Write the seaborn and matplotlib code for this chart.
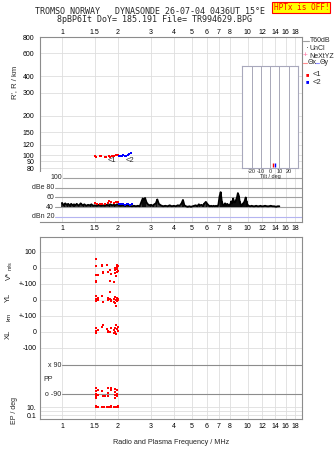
import numpy as np
import matplotlib
matplotlib.use('Agg')
import matplotlib.pyplot as plt
import seaborn as sns
from matplotlib.lines import Line2D

W, H = 335, 451

# axis ticks
freq_ticks = [1, 1.5, 2, 3, 4, 5, 6, 7, 8, 10, 12, 14, 16, 18]
freq_labels = ['1', '1.5', '2', '3', '4', '5', '6', '7', '8', '10', '12', '14', '16', '18']
rprime_ticks = [80, 90, 100, 120, 150, 200, 300, 400, 600, 800]
tilt_ticks = [-20, -10, 0, 10, 20]

# virtual range of the echoes
red_f = [1.50, 1.52, 1.60, 1.63, 1.70, 1.73, 1.78, 1.82, 1.86, 1.90, 1.95, 1.99]
red_r = [99, 97, 98, 98, 97, 97, 98, 97, 98, 99, 100, 100]
blue_f = [2.02, 2.06, 2.10, 2.14, 2.18, 2.22, 2.26, 2.30, 2.34]
blue_r = [99, 98, 99, 100, 98, 99, 101, 102, 104]

# tilt of the two echo traces
red_tilt = [3]
blue_tilt = [5]
tilt_level = [0.03]

# noise level (dB)
noise_f = [1.00, 1.02, 1.04, 1.06, 1.08, 1.10, 1.12, 1.14, 1.16, 1.18,
           1.20, 1.23, 1.26, 1.29, 1.32, 1.35, 1.38, 1.41, 1.44, 1.47,
           1.50, 1.54, 1.58, 1.62, 1.66, 1.70, 1.74, 1.78, 1.82, 1.86,
           1.90, 1.94, 1.98, 2.02, 2.07, 2.12, 2.17, 2.22, 2.27, 2.32,
           2.38, 2.44, 2.50, 2.56, 2.62, 2.68, 2.72, 2.76, 2.80, 2.85,
           2.90, 2.96, 3.02, 3.08, 3.14, 3.20, 3.26, 3.32, 3.40, 3.50,
           3.60, 3.70, 3.80, 3.90, 4.00, 4.10, 4.20, 4.30, 4.40, 4.48,
           4.56, 4.65, 4.75, 4.85, 4.95, 5.05, 5.15, 5.25, 5.35, 5.45,
           5.55, 5.65, 5.75, 5.85, 5.95, 6.05, 6.15, 6.25, 6.35, 6.45,
           6.55, 6.65, 6.75, 6.85, 6.95, 7.05, 7.15, 7.25, 7.35, 7.45,
           7.55, 7.65, 7.75, 7.85, 7.95, 8.05, 8.15, 8.25, 8.35, 8.45,
           8.55, 8.65, 8.75, 8.85, 8.95, 9.05, 9.15, 9.25, 9.35, 9.45,
           9.55, 9.65, 9.75, 9.85, 9.95, 10.1, 10.3, 10.5, 10.7, 10.9,
           11.1, 11.3, 11.5, 11.7, 11.9, 12.1, 12.4, 12.7, 13.0, 13.3,
           13.6, 13.9, 14.2, 14.5, 14.8]
noise_db = [49, 44, 48, 45, 47, 43, 47, 44, 46, 44,
            47, 43, 48, 44, 46, 43, 45, 44, 46, 43,
            44, 43, 45, 43, 44, 43, 45, 44, 46, 44,
            45, 44, 46, 44, 43, 44, 43, 44, 43, 43,
            42, 43, 42, 43, 42, 52, 58, 55, 59, 50,
            46, 44, 45, 43, 46, 48, 56, 47, 44, 42,
            43, 42, 44, 42, 43, 42, 44, 43, 48, 55,
            44, 42, 41, 42, 41, 42, 43, 44, 42, 46,
            44, 45, 43, 48, 51, 47, 44, 42, 43, 42,
            43, 42, 43, 42, 45, 62, 71, 52, 45, 44,
            48, 44, 47, 45, 44, 46, 52, 48, 58, 50,
            50, 55, 60, 69, 64, 52, 47, 45, 44, 48,
            50, 54, 60, 52, 46, 43, 42, 43, 42, 42,
            43, 42, 42, 43, 42, 42, 43, 42, 42, 43,
            42, 42, 41, 42, 42]

# echo amplitude (dB)
red_db_f = [1.50, 1.54, 1.60, 1.65, 1.70, 1.76, 1.80, 1.84, 1.90, 1.95, 1.99]
red_db_v = [48, 47, 46, 47, 46, 49, 52, 50, 48, 50, 51]
blue_db_f = [2.03, 2.08, 2.13, 2.18, 2.23, 2.28, 2.33, 2.38]
blue_db_v = [46, 47, 46, 45, 46, 46, 45, 46]

# lower panel parameters of the <1 trace
vstar_f = [1.52, 1.52, 1.52, 1.52, 1.52, 1.56, 1.64, 1.64, 1.66, 1.66, 1.75, 1.77, 1.81,
           1.81, 1.84, 1.91, 1.93, 1.93, 1.93, 1.96, 1.98, 1.98, 1.98, 1.98, 2.00, 2.00]
vstar_v = [56, 12, -44, -81, -88, -44, 19, 12, -25, -31, 19, -25, -12,
           -81, -37, -87, 0, -12, -31, -50, 19, -6, -25, 6, 12, -19]
yl_f = [1.52, 1.52, 1.52, 1.52, 1.56, 1.56, 1.64, 1.66, 1.77, 1.77, 1.81, 1.81,
        1.84, 1.84, 1.91, 1.91, 1.93, 1.93, 1.96, 1.96, 1.98, 1.98, 2.00, 2.00]
yl_v = [25, 6, 0, -6, 12, 0, 25, -12, 12, 0, 50, 6,
        0, -6, -12, 6, 19, -18, -37, 0, 12, -6, 6, 0]
xl_f = [1.52, 1.52, 1.52, 1.52, 1.56, 1.64, 1.66, 1.75, 1.77, 1.77, 1.81,
        1.84, 1.91, 1.91, 1.93, 1.93, 1.93, 1.96, 1.96, 1.98, 2.00, 2.00]
xl_v = [25, 6, -6, 0, 12, 31, 44, 19, 6, 0, 0,
        25, 12, -6, 25, 0, -6, 44, -12, 19, 31, 6]
pp_f = [1.52, 1.52, 1.52, 1.52, 1.52, 1.56, 1.56, 1.64, 1.66, 1.70, 1.77,
        1.77, 1.77, 1.84, 1.84, 1.93, 1.93, 1.93, 1.93, 1.98, 1.98, 1.98]
pp_v = [-53, -72, -90, -103, -115, -65, -96, -72, -103, -103, -53,
        -84, -103, -53, -65, -59, -78, -96, -115, -65, -90, -103]
ep_f = [1.52, 1.52, 1.56, 1.64, 1.68, 1.75, 1.80, 1.84, 1.84, 1.91, 1.93, 1.96, 1.96, 1.98, 2.00, 2.00]
ep_v = [14, 10, 12, 10, 13, 11, 12, 10, 14, 12, 10, 13, 10, 12, 11, 14]

sns.set_style('white')
plt.rcParams['font.family'] = ['Liberation Sans', 'DejaVu Sans']
plt.rcParams['font.size'] = 5

FRAME = '#8c8c8c'
GRID = '#dedede'
RED = '#ff0000'
BLUE = '#0000ff'


def rect(x0, y0, x1, y1):
    return [x0 / W, 1 - y1 / H, (x1 - x0) / W, (y1 - y0) / H]


def fxy(px, py):
    return px / W, 1 - py / H


# the lower panel stacks several quantities on one axis
def y_vstar(v):
    return np.asarray(v) / 100


def y_yl(v):
    return -2 + np.asarray(v) / 100


def y_xl(v):
    return -4 + np.asarray(v) / 100


def y_pp(p):
    return -6.969 + np.asarray(p) * (14.5 / 16 / 90)


def y_ep(e):
    return -8.6875 + (np.log10(e) - 1) * 0.25


fig = plt.figure(figsize=(W / 100, H / 100), dpi=100)

ax_r = fig.add_axes(rect(40, 37, 302, 172))
ax_db = fig.add_axes(rect(40, 172, 302, 222))
ax_lo = fig.add_axes(rect(40, 237, 302, 419))

for ax in (ax_r, ax_db, ax_lo):
    ax.set_xscale('log')
    ax.set_xlim(0.761, 19.6)
    for f in freq_ticks:
        ax.axvline(f, color=GRID, lw=0.6, zorder=0)
    ax.set_xticks(freq_ticks)
    ax.set_xticklabels(freq_labels)
    ax.xaxis.set_minor_locator(plt.NullLocator())
    ax.tick_params(length=0, labelsize=5, colors='black')
    for s in ax.spines.values():
        s.set_color(FRAME)
        s.set_linewidth(0.8)

# --- top panel: virtual range
ax_r.set_yscale('log')
ax_r.set_ylim(74.6, 800)
ax_r.yaxis.set_minor_locator(plt.NullLocator())
ax_r.set_yticks(rprime_ticks)
ax_r.set_yticklabels([str(t) for t in rprime_ticks])
for t in rprime_ticks:
    ax_r.axhline(t, color=GRID, lw=0.6, zorder=0)
ax_r.xaxis.tick_top()
ax_r.tick_params(axis='x', pad=1)
ax_r.tick_params(axis='y', pad=4)
ax_r.spines['bottom'].set_visible(False)

sns.scatterplot(x=red_f, y=red_r, color=RED, marker='s', s=4, linewidth=0, ax=ax_r, zorder=3)
sns.scatterplot(x=blue_f, y=blue_r, color=BLUE, marker='s', s=4, linewidth=0, ax=ax_r, zorder=3)
ax_r.text(1.77, 92, '<1', fontsize=5.5, va='center')
ax_r.text(2.21, 92, '<2', fontsize=5.5, va='center')

# tilt inset
ax_t = fig.add_axes(rect(242, 66, 298, 168))
ax_t.set_facecolor('white')
ax_t.set_xlim(-30.4, 30)
ax_t.set_ylim(0, 1)
for t in tilt_ticks:
    ax_t.axvline(t, color='#a8a8b8', lw=0.7, zorder=0)
ax_t.set_xticks(tilt_ticks)
ax_t.set_xticklabels([str(t) for t in tilt_ticks])
ax_t.set_yticks([])
ax_t.tick_params(length=0, labelsize=4, pad=0.5)
ax_t.set_xlabel('Tilt / deg', fontsize=4, labelpad=0)
for s in ax_t.spines.values():
    s.set_color('#a8a8bc')
    s.set_linewidth(0.8)
sns.scatterplot(x=red_tilt, y=tilt_level, color=RED, marker='|', s=10, linewidth=1, ax=ax_t)
sns.scatterplot(x=blue_tilt, y=tilt_level, color=BLUE, marker='|', s=10, linewidth=1, ax=ax_t)

# --- dB panel
ax_db.set_ylim(9.7, 112.3)
ax_db.set_yticks([])
ax_db.spines['top'].set_visible(False)
ax_db.spines['left'].set_visible(False)
ax_db.tick_params(axis='x', pad=2.5)
ax_db.axhline(100, xmin=23 / 262, color='#a0a0a0', lw=0.8, zorder=1)
for lv in [80, 60, 40]:
    ax_db.axhline(lv, xmin=15 / 262, color='#a0a0a0', lw=0.8, zorder=1)
ax_db.axhline(20, xmin=15 / 262, color='#b4b4f0', lw=0.8, zorder=1)
tr = ax_db.get_yaxis_transform()
ax_db.text(22 / 262, 100, '100', transform=tr, ha='right', va='center')
ax_db.text(14 / 262, 80, 'dBe 80', transform=tr, ha='right', va='center')
ax_db.text(14 / 262, 60, '60', transform=tr, ha='right', va='center')
ax_db.text(14 / 262, 40, '40', transform=tr, ha='right', va='center')
ax_db.text(14 / 262, 20, 'dBn 20', transform=tr, ha='right', va='center')

ax_db.vlines(noise_f, 41, noise_db, color='black', lw=1.1, zorder=2)
sns.lineplot(x=noise_f, y=noise_db, color='black', lw=1.3, ax=ax_db, zorder=2)
sns.scatterplot(x=red_db_f, y=red_db_v, color=RED, marker='s', s=4, linewidth=0, ax=ax_db, zorder=3)
sns.scatterplot(x=blue_db_f, y=blue_db_v, color=BLUE, marker='s', s=4, linewidth=0, ax=ax_db, zorder=3)

# --- lower panel
ax_lo.set_ylim(-9.4375, 1.9375)
lo_ticks = [1, 0, -1, -2, -3, -4, -5, float(y_ep(10)), float(y_ep(0.1))]
lo_labels = ['100', '0', '+-100', '0', '+-100', '0', '-100', '10.', '0.1']
ax_lo.set_yticks(lo_ticks)
ax_lo.set_yticklabels(lo_labels)
ax_lo.tick_params(axis='y', pad=2.5)
ax_lo.tick_params(axis='x', pad=3)
for t in [1, 0, -1, -2, -3, -4, -5, float(y_ep(10)), float(y_ep(1)), float(y_ep(0.1))]:
    ax_lo.axhline(t, color=GRID, lw=0.6, zorder=0)
for p in [90, -90]:
    ax_lo.axhline(float(y_pp(p)), xmin=22 / 262, color='#8c8c8c', lw=0.8, zorder=1)
tr = ax_lo.get_yaxis_transform()
ax_lo.text(21 / 262, float(y_pp(90)), 'x 90', transform=tr, ha='right', va='center')
ax_lo.text(21 / 262, float(y_pp(-90)), 'o -90', transform=tr, ha='right', va='center')
ax_lo.text(3 / 262, float(y_pp(0)), 'PP', transform=tr, ha='left', va='center')

kw = dict(color=RED, marker='s', s=3, linewidth=0, ax=ax_lo, zorder=3)
sns.scatterplot(x=vstar_f, y=y_vstar(vstar_v), **kw)
sns.scatterplot(x=yl_f, y=y_yl(yl_v), **kw)
sns.scatterplot(x=xl_f, y=y_xl(xl_v), **kw)
sns.scatterplot(x=pp_f, y=y_pp(pp_v), **kw)
sns.scatterplot(x=ep_f, y=y_ep(ep_v), **kw)
ax_lo.set_xlabel('Radio and Plasma Frequency / MHz', fontsize=5.2, labelpad=6)

# --- axis titles on the left
fig.text(*fxy(14.5, 82), "R', R / km", rotation=90, ha='center', va='center', fontsize=5.5)
fig.text(*fxy(9.5, 276), 'V*', rotation=90, ha='center', va='center', fontsize=5.5)
fig.text(*fxy(10, 266), 'm/s', rotation=90, ha='center', va='center', fontsize=4)
fig.text(*fxy(8, 297), 'YL', rotation=90, ha='center', va='center', fontsize=5.5)
fig.text(*fxy(9, 317), 'km', rotation=90, ha='center', va='center', fontsize=4.5)
fig.text(*fxy(8, 334), 'XL', rotation=90, ha='center', va='center', fontsize=5.5)
fig.text(*fxy(14, 410), 'EP / deg', rotation=90, ha='center', va='center', fontsize=5)


# --- legend at the right
def fig_line(x0, x1, y, color, lw=0.8):
    fig.add_artist(Line2D([x0 / W, x1 / W], [1 - y / H, 1 - y / H], color=color, lw=lw))


fig_line(303, 309, 41, '#a0a0a0')
fig.text(*fxy(310, 41), 'T60dB', ha='left', va='center')
fig.text(*fxy(307, 49), '·', ha='center', va='center', fontsize=6)
fig.text(*fxy(310, 49), 'UnCl', ha='left', va='center')
fig.text(*fxy(305.5, 56), '+', ha='center', va='center', color='#ff70a0', fontsize=6)
fig.text(*fxy(309, 56), 'NeXtYZ', ha='left', va='center')
fig_line(303, 307, 63, '#ff8c8c')
fig.text(*fxy(307.5, 63), 'Θx', ha='left', va='center', fontsize=5)
fig_line(315, 319, 63, '#8c8cff')
fig.text(*fxy(319.5, 63), 'Θy', ha='left', va='center', fontsize=5)
fig.text(*fxy(307, 75), '■', ha='center', va='center', color=RED, fontsize=4)
fig.text(*fxy(313, 75), '<1', ha='left', va='center', fontsize=5.5)
fig.text(*fxy(307, 82), '■', ha='center', va='center', color=BLUE, fontsize=4)
fig.text(*fxy(313, 82), '<2', ha='left', va='center', fontsize=5.5)

# --- header
fig.text(*fxy(35, 12), 'TROMSO NORWAY   DYNASONDE 26-07-04 0436UT 15°E',
         family='DejaVu Sans Mono', fontsize=6, ha='left', va='center')
fig.text(*fxy(57, 20), '8pBP6It DoY= 185.191 File= TR994629.BPG',
         family='DejaVu Sans Mono', fontsize=6, ha='left', va='center')
fig.text(*fxy(273.5, 7.5), 'HPTx is OFF!', family='DejaVu Sans Mono', fontsize=5.6,
         ha='left', va='center', color=RED,
         bbox=dict(facecolor='#ffff00', edgecolor=RED, linewidth=0.8, pad=0.8))

fig.savefig('out.png', dpi=100)
